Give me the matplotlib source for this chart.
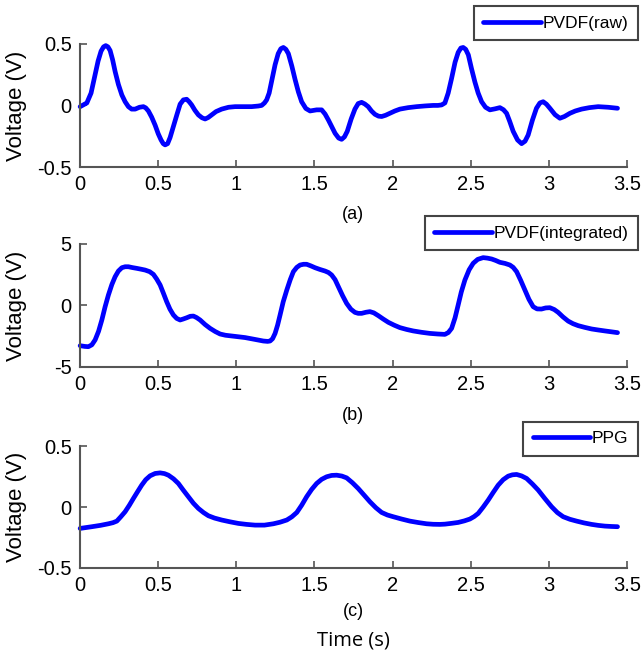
import matplotlib.pyplot as plt

# PVDF raw signal (time s, voltage V)
raw_t = [0, 0.043, 0.07, 0.096, 0.115, 0.134, 0.15, 0.164, 0.178, 0.192, 0.208, 0.224,
         0.245, 0.267, 0.288, 0.309, 0.33, 0.352, 0.38, 0.405, 0.42, 0.437, 0.458, 0.48,
         0.50, 0.518, 0.532, 0.544, 0.56, 0.576, 0.597, 0.619, 0.64, 0.661, 0.682, 0.698,
         0.714, 0.735, 0.757, 0.78, 0.80, 0.82, 0.842, 0.87, 0.906, 0.95, 0.992, 1.05,
         1.098, 1.14, 1.162, 1.18, 1.194, 1.21, 1.23, 1.248, 1.268, 1.285, 1.301, 1.317,
         1.333, 1.355, 1.376, 1.397, 1.418, 1.445, 1.472, 1.495, 1.514, 1.546, 1.568, 1.589,
         1.61, 1.632, 1.655, 1.674, 1.692, 1.71, 1.735, 1.759, 1.78, 1.802, 1.822, 1.844,
         1.865, 1.887, 1.91, 1.93, 1.955, 1.983, 2.015, 2.047, 2.1, 2.154, 2.21, 2.26,
         2.29, 2.314, 2.335, 2.356, 2.378, 2.40, 2.42, 2.437, 2.452, 2.468, 2.485, 2.505,
         2.527, 2.548, 2.57, 2.595, 2.623, 2.655, 2.687, 2.71, 2.73, 2.75, 2.772, 2.8,
         2.826, 2.848, 2.868, 2.895, 2.921, 2.943, 2.964, 2.985, 3.007, 3.04, 3.071, 3.1,
         3.135, 3.17, 3.21, 3.26, 3.316, 3.38, 3.44]
raw_v = [-0.01, 0.02, 0.1, 0.25, 0.36, 0.44, 0.475, 0.485, 0.475, 0.445, 0.37, 0.275,
         0.17, 0.085, 0.03, -0.01, -0.03, -0.03, -0.015, -0.01, -0.02, -0.045, -0.095, -0.16,
         -0.23, -0.28, -0.31, -0.32, -0.31, -0.26, -0.17, -0.077, 0.01, 0.045, 0.05, 0.03,
         0.004, -0.04, -0.077, -0.1, -0.11, -0.098, -0.077, -0.05, -0.03, -0.015, -0.01, -0.01,
         -0.01, -0.005, 0.0, 0.02, 0.045, 0.1, 0.22, 0.33, 0.42, 0.46, 0.47, 0.455,
         0.42, 0.32, 0.21, 0.11, 0.03, -0.025, -0.045, -0.04, -0.036, -0.036, -0.07, -0.118,
         -0.17, -0.226, -0.265, -0.275, -0.255, -0.21, -0.11, -0.03, 0.015, 0.025, 0.012, -0.01,
         -0.045, -0.072, -0.087, -0.09, -0.08, -0.064, -0.045, -0.03, -0.018, -0.01, -0.004, 0.0,
         0.0, 0.004, 0.02, 0.1, 0.22, 0.35, 0.43, 0.465, 0.47, 0.455, 0.41, 0.3,
         0.19, 0.1, 0.03, -0.015, -0.036, -0.028, -0.018, -0.035, -0.064, -0.13, -0.21, -0.28,
         -0.31, -0.29, -0.24, -0.12, -0.023, 0.02, 0.03, 0.01, -0.023, -0.075, -0.104, -0.09,
         -0.064, -0.045, -0.03, -0.018, -0.01, -0.015, -0.023]

# PVDF integrated signal
int_t = [0, 0.03, 0.053, 0.075, 0.096, 0.118, 0.139, 0.16, 0.181, 0.203, 0.224, 0.245,
         0.267, 0.288, 0.309, 0.335, 0.362, 0.39, 0.416, 0.445, 0.469, 0.49, 0.512, 0.533,
         0.554, 0.575, 0.597, 0.618, 0.64, 0.66, 0.682, 0.705, 0.725, 0.745, 0.768, 0.8,
         0.832, 0.865, 0.896, 0.93, 0.97, 1.01, 1.056, 1.115, 1.173, 1.2, 1.216, 1.232,
         1.248, 1.264, 1.28, 1.3, 1.323, 1.345, 1.365, 1.387, 1.408, 1.43, 1.45, 1.477,
         1.504, 1.535, 1.568, 1.59, 1.61, 1.632, 1.653, 1.68, 1.706, 1.733, 1.759, 1.78,
         1.802, 1.83, 1.855, 1.88, 1.909, 1.94, 1.973, 2.01, 2.047, 2.09, 2.132, 2.185,
         2.239, 2.29, 2.335, 2.357, 2.378, 2.40, 2.42, 2.44, 2.463, 2.49, 2.516, 2.545,
         2.58, 2.607, 2.634, 2.66, 2.687, 2.72, 2.751, 2.772, 2.794, 2.82, 2.847, 2.873,
         2.9, 2.925, 2.953, 2.98, 3.007, 3.035, 3.06, 3.09, 3.124, 3.155, 3.188, 3.23,
         3.274, 3.315, 3.359, 3.4, 3.44]
int_v = [-3.27, -3.33, -3.35, -3.2, -2.8, -2.1, -1.18, -0.1, 0.85, 1.7, 2.34, 2.8,
         3.07, 3.15, 3.15, 3.08, 3.02, 2.95, 2.88, 2.75, 2.53, 2.15, 1.67, 1.0,
         0.31, -0.3, -0.77, -1.05, -1.18, -1.1, -1.0, -0.88, -0.86, -0.98, -1.18, -1.55,
         -1.86, -2.12, -2.32, -2.42, -2.48, -2.54, -2.61, -2.75, -2.89, -2.92, -2.89, -2.7,
         -2.27, -1.6, -0.77, 0.3, 1.26, 2.1, 2.75, 3.1, 3.29, 3.35, 3.35, 3.22,
         3.07, 2.93, 2.8, 2.68, 2.48, 2.1, 1.53, 0.8, 0.17, -0.3, -0.56, -0.64,
         -0.64, -0.55, -0.5, -0.6, -0.83, -1.1, -1.37, -1.6, -1.8, -1.95, -2.07, -2.18,
         -2.27, -2.32, -2.35, -2.2, -1.86, -1.0, 0.04, 1.1, 2.07, 2.9, 3.43, 3.75,
         3.89, 3.85, 3.78, 3.66, 3.51, 3.42, 3.29, 3.1, 2.75, 2.05, 1.26, 0.5,
         -0.1, -0.28, -0.29, -0.2, -0.18, -0.33, -0.56, -0.92, -1.27, -1.48, -1.64, -1.78,
         -1.91, -1.99, -2.07, -2.14, -2.21]

# PPG signal
ppg_t = [0, 0.075, 0.13, 0.181, 0.21, 0.235, 0.26, 0.288, 0.315, 0.341, 0.368, 0.394,
         0.42, 0.448, 0.48, 0.512, 0.54, 0.565, 0.598, 0.629, 0.66, 0.693, 0.725, 0.757,
         0.79, 0.821, 0.86, 0.906, 0.96, 1.013, 1.065, 1.12, 1.18, 1.237, 1.28, 1.323,
         1.355, 1.387, 1.418, 1.45, 1.482, 1.514, 1.546, 1.578, 1.61, 1.642, 1.675, 1.706,
         1.743, 1.78, 1.818, 1.855, 1.893, 1.93, 1.967, 2.004, 2.058, 2.111, 2.165, 2.218,
         2.26, 2.303, 2.335, 2.38, 2.42, 2.46, 2.495, 2.522, 2.548, 2.58, 2.612, 2.644,
         2.676, 2.708, 2.74, 2.767, 2.794, 2.826, 2.858, 2.895, 2.932, 2.975, 3.018, 3.055,
         3.092, 3.135, 3.178, 3.226, 3.274, 3.316, 3.359, 3.4, 3.44]
ppg_v = [-0.175, -0.161, -0.15, -0.137, -0.128, -0.115, -0.08, -0.038, 0.015, 0.071, 0.127, 0.18,
         0.225, 0.257, 0.276, 0.281, 0.275, 0.262, 0.232, 0.194, 0.14, 0.085, 0.032, -0.011,
         -0.045, -0.071, -0.09, -0.106, -0.121, -0.134, -0.142, -0.148, -0.148, -0.137, -0.124, -0.106,
         -0.08, -0.044, 0.015, 0.085, 0.145, 0.194, 0.228, 0.249, 0.26, 0.262, 0.255, 0.24,
         0.2, 0.153, 0.098, 0.044, -0.005, -0.044, -0.065, -0.079, -0.098, -0.115, -0.127, -0.137,
         -0.141, -0.142, -0.14, -0.133, -0.126, -0.113, -0.098, -0.078, -0.052, 0.0, 0.057, 0.12,
         0.18, 0.225, 0.254, 0.265, 0.268, 0.256, 0.235, 0.19, 0.14, 0.07, 0.003, -0.045,
         -0.079, -0.1, -0.115, -0.13, -0.142, -0.15, -0.156, -0.159, -0.161]

panel_labels = ['(a)', '(b)', '(c)']
legend_names = ['PVDF(raw)', 'PVDF(integrated)', 'PPG']
y_limits = [(-0.5, 0.5), (-5, 5), (-0.5, 0.5)]
y_ticks = [[-0.5, 0, 0.5], [-5, 0, 5], [-0.5, 0, 0.5]]
y_ticklabels = [['-0.5', '0', '0.5'], ['-5', '0', '5'], ['-0.5', '0', '0.5']]
x_ticks = [0, 0.5, 1, 1.5, 2, 2.5, 3, 3.5]
x_ticklabels = ['0', '0.5', '1', '1.5', '2', '2.5', '3', '3.5']

plt.rcParams['font.family'] = ['Liberation Sans', 'DejaVu Sans']

fig = plt.figure(figsize=(6.41, 6.63), dpi=100)

# axes boxes: [left, bottom, width, height]
boxes = [[0.125, 0.748, 0.853, 0.186],
         [0.125, 0.4465, 0.853, 0.1855],
         [0.125, 0.1433, 0.853, 0.1837]]
legend_tops = [0.991, 0.674, 0.364]
label_y = [0.677, 0.373, 0.077]

series = [(raw_t, raw_v), (int_t, int_v), (ppg_t, ppg_v)]
spine_col = '#555555'

for i, (t, v) in enumerate(series):
    ax = fig.add_axes(boxes[i])
    ax.plot(t, v, color='#0000ff', linewidth=3.4, label=legend_names[i],
            solid_joinstyle='round', solid_capstyle='round', clip_on=False)
    ax.set_xlim(0, 3.5)
    ax.set_ylim(*y_limits[i])
    ax.set_xticks(x_ticks)
    ax.set_xticklabels(x_ticklabels)
    ax.set_yticks(y_ticks[i])
    ax.set_yticklabels(y_ticklabels[i])
    ax.tick_params(direction='in', length=5, width=1.2, color=spine_col,
                   labelsize=14.5, pad=6)
    for s in ['top', 'right']:
        ax.spines[s].set_visible(False)
    for s in ['left', 'bottom']:
        ax.spines[s].set_color(spine_col)
        ax.spines[s].set_linewidth(1.5)
    ax.set_ylabel('Voltage (V)', fontsize=16)
    ax.yaxis.set_label_coords(-0.097, 0.5)

    leg = ax.legend(loc='upper right', bbox_to_anchor=(0.995, legend_tops[i]),
                    bbox_transform=fig.transFigure, fontsize=12.5, handlelength=3.3,
                    handletextpad=0.1, borderpad=0.55, borderaxespad=0,
                    fancybox=False, framealpha=1)
    leg.get_frame().set_edgecolor('#444444')
    leg.get_frame().set_linewidth(1.5)

    fig.text(0.551, label_y[i], panel_labels[i], ha='center', va='center', fontsize=13)

fig.text(0.551, 0.034, 'Time (s)', ha='center', va='center', fontsize=14.5,
         family=['Open Sans', 'DejaVu Sans'])

fig.savefig('out.png', dpi=100)
